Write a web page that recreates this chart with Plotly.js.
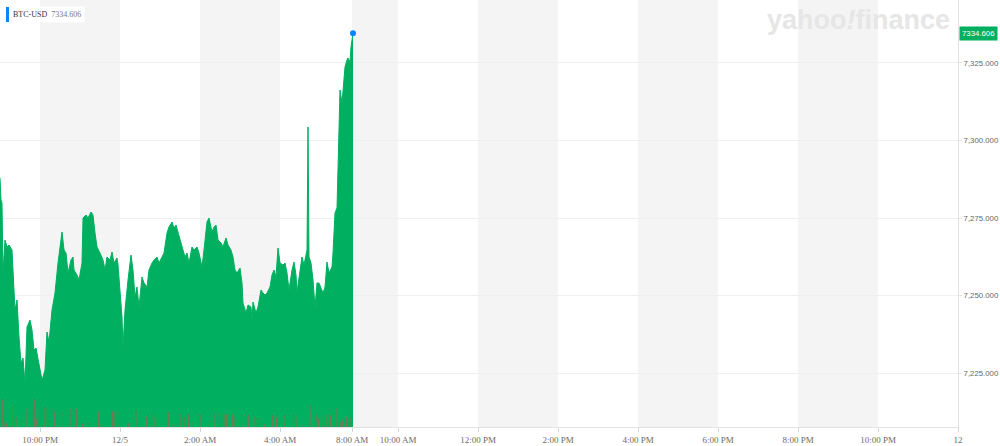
<!DOCTYPE html>
<html>
<head>
<meta charset="utf-8">
<script src="https://cdn.plot.ly/plotly-3.0.1.min.js"></script>
<style>
html,body{margin:0;padding:0;background:#fff;}
#chart{width:1000px;height:446px;}
</style>
</head>
<body>
<div id="chart"></div>
<script>
// minutes after 9:00 PM (Dec 4), as laid out on the chart's time axis
const times = [
  0,1.5,3,4.5,7.5,10.5,13.5,18,22.5,25.5,28.5,31.5,34.5,37.5,40.5,45,48,51,54,58.5,
  63,64.5,67.5,70.5,73.5,78,82.5,87,90,93,96,99,102,106.5,109.5,111,115.5,118.5,123,124.5,
  129,132,136.5,139.5,142.5,145.5,150,154.5,157.5,160.5,165,168,171,175.5,177,180,183,184.5,187.5,192,
  196.5,199.5,202.5,205.5,208.5,213,216,220.5,223.5,228,231,235.5,238.5,243,246,250.5,253.5,258,261,264,
  267,271.5,274.5,277.5,280.5,283.5,288,291,295.5,298.5,300,303,306,310.5,313.5,318,321,324,327,331.5,
  334.5,339,342,346.5,349.5,352.5,355.5,360,363,364.5,369,372,376.5,378,379.5,384,387,391.5,394.5,397.5,
  400.5,405,408,411,414,417,420,424.5,427.5,430.5,433.5,438,441,444,445.5,450,453,456,460.5,462,
  463.5,466.5,469.5,472.5,475.5,478.5,483,484.5,487.5,490.5,493.5,498,499.5,502.5,505.5,507,508.5,510,513,514.5,
  517.5,520.5,522,525,526.5,529.5
];
const prices = [
  7287.90,7280.81,7279.84,7257.26,7267.90,7265.65,7266.29,7264.68,7245.32,7248.55,7236.61,7228.23,7229.84,7221.77,7239.84,7242.10,7238.87,7232.42,7233.06,7228.23,
  7222.74,7223.71,7225.97,7238.23,7235.00,7245.32,7250.81,7260.48,7265.65,7270.48,7264.68,7263.71,7257.26,7261.45,7262.42,7258.23,7256.61,7255.00,7260.48,7275.00,
  7275.97,7275.00,7276.94,7275.97,7270.16,7265.65,7263.71,7261.45,7258.23,7262.42,7261.45,7264.03,7260.48,7262.10,7259.84,7251.77,7243.06,7233.39,7245.32,7255.00,
  7263.06,7258.23,7249.52,7252.74,7246.29,7255.97,7254.03,7252.74,7258.23,7260.48,7261.45,7262.42,7260.48,7262.42,7263.71,7270.16,7272.10,7273.71,7271.77,7272.74,
  7270.16,7266.94,7264.68,7262.42,7263.71,7260.48,7265.65,7264.68,7265.65,7263.71,7262.42,7259.19,7264.68,7273.71,7275.00,7270.48,7272.10,7272.74,7267.90,7266.94,
  7265.65,7268.55,7266.29,7264.68,7262.42,7258.23,7257.26,7258.87,7254.03,7247.58,7244.35,7246.94,7246.29,7242.10,7247.90,7244.35,7246.29,7251.77,7250.81,7250.16,
  7250.81,7252.74,7256.61,7258.23,7255.97,7265.32,7260.48,7259.84,7260.48,7257.26,7251.77,7258.23,7260.81,7256.61,7251.13,7258.23,7262.42,7259.84,7264.68,7304.35,
  7262.42,7260.48,7255.00,7246.29,7254.03,7254.03,7251.77,7250.81,7252.74,7260.81,7257.26,7259.19,7263.71,7276.61,7278.23,7290.48,7306.61,7316.29,7312.10,7316.29,
  7323.71,7325.97,7326.61,7325.32,7330.16,7334.606
];
const volTimes = [
  4,7.5,10,17.5,20,24,32.5,39,47.5,51.5,55,59,67.5,71,74,81.5,95,105,115,124,
  134,147.5,155,169,172.5,179,192.5,204,220,227.5,232.5,236,252.5,260,270,277.5,282.5,290,300,314,
  321,329,332.5,336,340,344,349,352.5,356,362.5,372.5,382.5,386,397.5,409,415,419,427.5,440,444,
  455,465,474,477.5,482.5,485,489,494,496,504,510,514,520,525
];
const volumes = [
  28,5,4,20,21,10,7,18,19,28,9,19,20,19,7,16,15,18,18,4,
  4,16,3,16,15,16,4,16,10,13,10,15,15,3,13,10,13,5,13,7,
  13,13,14,13,12,13,13,10,7,13,12,10,10,3,12,10,9,12,12,10,
  3,22,13,9,7,12,10,12,12,19,5,7,10,10
];
const tickVals = [60,180,300,420,528,597,717,837,957,1077,1197,1317,1437];
const tickText = ["10:00 PM","12/5","2:00 AM","4:00 AM","8:00 AM","10:00 AM","12:00 PM","2:00 PM","4:00 PM","6:00 PM","8:00 PM","10:00 PM","12"];
const priceTicks = [7225,7250,7275,7300,7325];
const symbol = "BTC-USD";
const lastPrice = prices[prices.length-1];
const lastText = "7334.606";

const GREEN = "#00b060";

const shapes = [];
for (let i = 0; i + 1 < tickVals.length - 1; i += 2) {
  shapes.push({type:"rect", layer:"below", xref:"x", yref:"paper",
    x0:tickVals[i], x1:tickVals[i+1], y0:0, y1:1,
    fillcolor:"#f4f4f4", line:{width:0}});
}
// legend marker bar
shapes.push({type:"rect", xref:"paper", yref:"paper", layer:"above",
  x0:6/958, x1:9/958, y0:1-22/427, y1:1-7/427, fillcolor:"#0a84ff", line:{width:0}});

const traces = [
  {x:times, y:prices, type:"scatter", mode:"lines", fill:"tozeroy",
   fillcolor:GREEN, line:{color:GREEN, width:1}, hoverinfo:"skip"},
  {x:volTimes, y:volumes, type:"bar", yaxis:"y2", width:1.4,
   marker:{color:"rgba(180,92,66,0.72)", line:{width:0}}, hoverinfo:"skip"},
  {x:[times[times.length-1]], y:[lastPrice], type:"scatter", mode:"markers",
   marker:{color:"#0a84ff", size:6}, hoverinfo:"skip", cliponaxis:false}
];

const layout = {
  width:1000, height:446,
  margin:{l:0, r:42, t:0, b:19},
  paper_bgcolor:"#fff", plot_bgcolor:"rgba(0,0,0,0)",
  showlegend:false,
  xaxis:{range:[0,1437], tickvals:tickVals, ticktext:tickText,
    showgrid:false, zeroline:false, showline:true, linecolor:"#e3e3e3", linewidth:1,
    ticks:"outside", ticklen:4, tickcolor:"#d6d6d6",
    tickfont:{family:"Liberation Serif, DejaVu Serif, serif", size:9, color:"#6b6b6b"}},
  yaxis:{range:[7207.6,7345.3], side:"right", tickvals:priceTicks, tickformat:",.3f",
    showgrid:true, gridcolor:"#efefef", zeroline:false,
    showline:true, linecolor:"#e3e3e3", linewidth:1,
    ticks:"outside", ticklen:3, tickcolor:"#e3e3e3", ticklabelstandoff:0,
    tickfont:{family:"Liberation Sans, Arial, sans-serif", size:7.8, color:"#666"}},
  yaxis2:{overlaying:"y", range:[0,427], visible:false, fixedrange:true},
  shapes:shapes,
  annotations:[
    {xref:"paper", yref:"paper", x:9/958, y:1-14.5/427, xanchor:"left", yanchor:"middle",
     text:symbol + "  <span style='color:#777'>" + lastText + "</span>", showarrow:false,
     bgcolor:"#ffffff", borderpad:3,
     font:{family:"Liberation Serif, DejaVu Serif, serif", size:8, color:"#333"}},
    {xref:"paper", yref:"y", x:1, y:lastPrice, xanchor:"left", yanchor:"middle",
     xshift:1, text:lastText, showarrow:false, bgcolor:GREEN, borderpad:2,
     font:{family:"Liberation Sans, Arial, sans-serif", size:7.8, color:"#fff"}},
    {xref:"paper", yref:"paper", x:952/958, y:1-20/427, xanchor:"right", yanchor:"middle",
     text:"<b>yahoo<i>!</i>finance</b>", showarrow:false,
     font:{family:"Liberation Sans, Arial, sans-serif", size:27, color:"#e6e6e6"}}
  ]
};

Plotly.newPlot("chart", traces, layout, {displayModeBar:false, staticPlot:true});
</script>
</body>
</html>
